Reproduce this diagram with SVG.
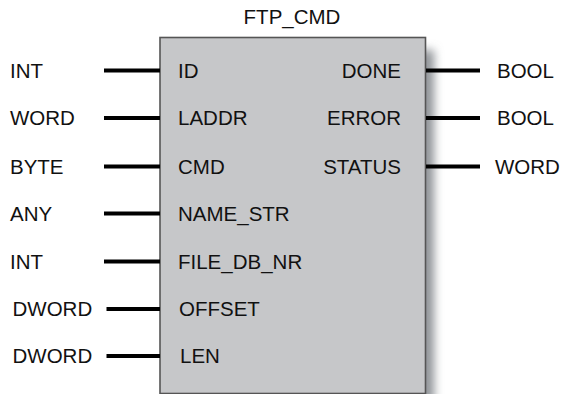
<svg xmlns="http://www.w3.org/2000/svg" width="563" height="394" viewBox="0 0 563 394">
<defs>
<filter id="sh" x="-1" y="-0.2" width="3" height="1.4"><feGaussianBlur stdDeviation="5"/></filter>
<style>
text{font-family:"Liberation Sans",Arial,Helvetica,sans-serif;font-size:20.5px;fill:#111}
.r{text-anchor:end}
.w{stroke:#000;stroke-width:3.8;fill:none}
</style>
</defs>
<rect x="0" y="0" width="563" height="394" fill="#fff"/>
<text x="292" y="24" text-anchor="middle">FTP_CMD</text>
<g id="block">
<rect x="418" y="50" width="16" height="380" fill="#8f9397" filter="url(#sh)"/>
<rect x="160" y="37.5" width="265.5" height="356" fill="#c6c7c9" stroke="#555" stroke-width="1.6"/>
</g>
<g id="connectors">
<path class="w" d="M104 70.5H160M104 118H160M104 166.5H160M104 213.5H160M104 261.5H160M106.5 309H160M106.5 356H160"/>
<path class="w" d="M426 70.5H455M426 118H455M426 166.5H455"/>
<path class="w" stroke-width="3" d="M455 70.5H480M455 118H480M455 166.5H480"/>
</g>
<g id="in_ID"><text x="10" y="77.5">INT</text><text x="178" y="77.5">ID</text></g>
<g id="in_LADDR"><text x="10" y="125">WORD</text><text x="178" y="125">LADDR</text></g>
<g id="in_CMD"><text x="10" y="173.5">BYTE</text><text x="178" y="173.5">CMD</text></g>
<g id="in_NAME_STR"><text x="10" y="220.5">ANY</text><text x="178" y="220.5">NAME_STR</text></g>
<g id="in_FILE_DB_NR"><text x="10" y="268.5">INT</text><text x="178" y="268.5">FILE_DB_NR</text></g>
<g id="in_OFFSET"><text x="12.5" y="316">DWORD</text><text x="179" y="316">OFFSET</text></g>
<g id="in_LEN"><text x="12.5" y="363">DWORD</text><text x="180" y="363">LEN</text></g>
<g id="out_DONE"><text class="r" x="401" y="77.5">DONE</text><text x="497" y="77.5">BOOL</text></g>
<g id="out_ERROR"><text class="r" x="401" y="125">ERROR</text><text x="497" y="125">BOOL</text></g>
<g id="out_STATUS"><text class="r" x="401" y="173.5">STATUS</text><text x="495" y="173.5">WORD</text></g>
</svg>
